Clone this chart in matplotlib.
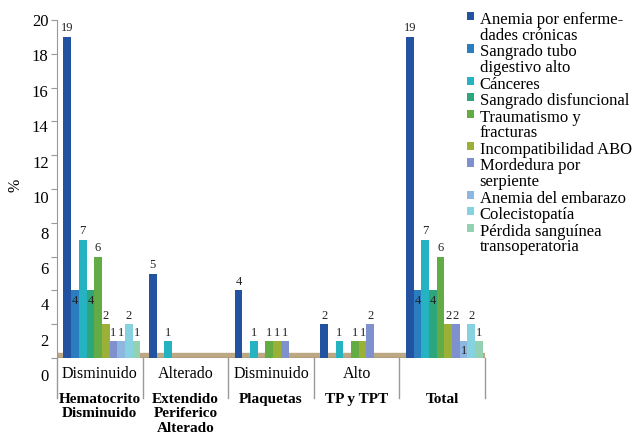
import numpy as np
import matplotlib
matplotlib.use("Agg")
import matplotlib.pyplot as plt
import matplotlib.transforms as mtransforms
from matplotlib.patches import Patch

plt.rcParams['font.family'] = ['Liberation Serif', 'DejaVu Serif']

# data
groups = ["Hematocrito\nDisminuido", "Extendido\nPeriferico\nAlterado", "Plaquetas", "TP y TPT", "Total"]
sub_labels = ["Disminuido", "Alterado", "Disminuido", "Alto", ""]
series = ["Anemia por enferme-\ndades crónicas", "Sangrado tubo\ndigestivo alto", "Cánceres",
          "Sangrado disfuncional", "Traumatismo y\nfracturas", "Incompatibilidad ABO",
          "Mordedura por\nserpiente", "Anemia del embarazo", "Colecistopatía",
          "Pérdida sanguínea\ntransoperatoria"]
hematocrito = [19, 4, 7, 4, 6, 2, 1, 1, 2, 1]
extendido = [5, 0, 1, 0, 0, 0, 0, 0, 0, 0]
plaquetas = [4, 0, 1, 0, 1, 1, 1, 0, 0, 0]
tp_tpt = [2, 0, 1, 0, 1, 1, 2, 0, 0, 0]
total = [19, 4, 7, 4, 6, 2, 2, 1, 2, 1]
yticks = [0, 2, 4, 6, 8, 10, 12, 14, 16, 18, 20]

colors = ["#2352a0", "#2a7dbe", "#25b3c2", "#2ea67c", "#62ab45",
          "#9bb036", "#7f90cf", "#8db6e0", "#86d2e0", "#92d2b2"]

values = np.array([hematocrito, extendido, plaquetas, tp_tpt, total])

fig = plt.figure(figsize=(6.34, 4.45), dpi=100)
ax = fig.add_axes([57/634, 87/445, 428/634, 338/445])

bar_w = 0.09
offset = 0.075

# floor
ax.axhspan(0, 0.3, color="#bca883", zorder=1)
ax.axhline(0, color="#8c7b58", lw=1, zorder=1)

for s in range(len(series)):
    x = np.arange(len(groups)) + offset + s * bar_w
    ax.bar(x, values[:, s], width=bar_w, align="edge", color=colors[s],
           linewidth=0, zorder=2)

# value labels, inside the bar when both neighbours are taller
for g in range(len(groups)):
    for s in range(len(series)):
        v = values[g, s]
        if v == 0:
            continue
        left = values[g, s - 1] if s > 0 else 0
        right = values[g, s + 1] if s < len(series) - 1 else 0
        xc = g + offset + (s + 0.5) * bar_w
        if left > v and right > v:
            ax.text(xc, v - 0.25, str(v), ha="center", va="top", fontsize=9,
                    color="#222222", zorder=3)
        else:
            ax.text(xc, v + 0.15, str(v), ha="center", va="bottom", fontsize=9,
                    color="#222222", zorder=3)

ax.set_xlim(0, len(groups))
ax.set_ylim(0, 20)
ax.set_yticks(yticks)
ax.set_yticklabels([str(t) for t in yticks], fontsize=12)
ax.tick_params(axis="y", length=4, color="#999999", pad=2)
for lab, v in zip(ax.get_yticklabels(), yticks):
    lab.set_transform(lab.get_transform() +
                      mtransforms.ScaledTranslation(0, -(20 - v) * 0.0085, fig.dpi_scale_trans))

ax.set_xticks(np.arange(len(groups)) + 0.5)
ax.set_xticklabels(sub_labels, fontsize=11.5)
ax.tick_params(axis="x", length=0, pad=6)

for spine in ["top", "right", "bottom"]:
    ax.spines[spine].set_visible(False)
ax.spines["left"].set_color("#999999")

ax.set_ylabel("%", fontsize=11.5)
ax.yaxis.set_label_coords(-33/428, 0.51)

trans = mtransforms.blended_transform_factory(ax.transData, ax.transAxes)
for g in range(len(groups) + 1):
    ax.plot([g, g], [0, -40/338], transform=trans, color="#999999", lw=1, clip_on=False)
for g, name in enumerate(groups):
    ax.annotate(name, xy=(g + 0.5, 0), xycoords=trans, xytext=(0, -25),
                textcoords="offset points", ha="center", va="top",
                fontsize=11, fontweight="bold", linespacing=1.15)

handles = [Patch(facecolor=c, edgecolor="none") for c in colors]
leg = fig.legend(handles, series, loc="upper left", bbox_to_anchor=(467/634, 1 - 12/445),
                 frameon=False, fontsize=12, handlelength=0.4, handleheight=0.4,
                 handletextpad=0.35, labelspacing=0.03, borderpad=0, borderaxespad=0)
for t in leg.get_texts():
    t.set_linespacing(0.98)
# put the squares next to the first line of each entry
for col in leg._legend_handle_box.get_children():
    for row in col.get_children():
        row.align = "top"

fig.savefig("out.png", dpi=100)
